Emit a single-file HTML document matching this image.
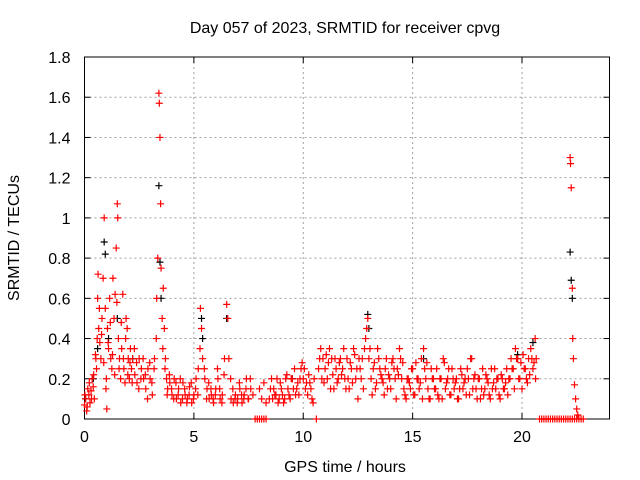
<!DOCTYPE html>
<html><head><meta charset="utf-8"><style>
body{margin:0;background:#fff}
svg{display:block;font-family:"Liberation Sans",sans-serif;font-size:16px}
</style></head><body>
<svg id="chart" width="640" height="480">
<rect width="640" height="480" fill="#fff"/>
<g id="grid"></g>
<g id="axes"></g>
<g id="black"></g>
<g id="red"></g>
<text x="345" y="33" text-anchor="middle">Day 057 of 2023, SRMTID for receiver cpvg</text>
<text x="345" y="472" text-anchor="middle">GPS time / hours</text>
<text transform="translate(19,238) rotate(-90)" text-anchor="middle">SRMTID / TECUs</text>
</svg>
<script>
const xTicks=[0,5,10,15,20];
const yTicks=[0,0.2,0.4,0.6,0.8,1,1.2,1.4,1.6,1.8];
const yTickLabels=["0","0.2","0.4","0.6","0.8","1","1.2","1.4","1.6","1.8"];
const redT=[0,.05,.1,.15,.2,.25,.3,.35,.4,.45,.5,.55,.6,.62,.65,.7,.75,.8,.85,.9,.95,1.0,1.02,1.05,1.1,1.15,1.2,1.25,1.3,1.35,1.4,1.45,1.5,1.52,1.55,1.6,1.65,1.7,1.75,1.8,1.85,1.9,1.95,2.0,2.05,2.1,2.15,2.2,2.3,2.4,2.5,2.6,2.7,2.8,2.9,3.0,3.1,3.2,3.3,3.35,3.4,3.42,3.45,3.48,3.5,3.55,3.6,3.65,3.7,3.75,3.8,3.9,4.0,4.1,4.2,4.3,4.4,4.5,4.6,4.7,4.8,4.9,5.0,5.1,5.2,5.3,5.35,5.4,5.5,5.6,5.7,5.8,5.9,6.0,6.1,6.2,6.3,6.4,6.5,6.55,6.6,6.7,6.8,6.9,7.0,7.1,7.2,7.3,7.4,7.5,7.6,7.7,8.0,8.1,8.2,8.3,8.5,8.6,8.7,8.8,8.9,9.0,9.1,9.2,9.3,9.4,9.5,9.6,9.7,9.8,9.9,10.0,10.1,10.2,10.3,10.4,10.5,10.7,10.8,10.9,11.0,11.1,11.2,11.3,11.4,11.5,11.6,11.7,11.8,11.9,12.0,12.1,12.2,12.3,12.4,12.5,12.6,12.7,12.8,12.9,12.95,13.0,13.1,13.2,13.3,13.4,13.5,13.6,13.7,13.8,13.9,14.0,14.1,14.2,14.3,14.4,14.5,14.6,14.7,14.8,14.9,15.0,15.1,15.2,15.3,15.4,15.5,15.6,15.7,15.8,15.9,16.0,16.1,16.2,16.3,16.4,16.5,16.6,16.7,16.8,16.9,17.0,17.1,17.2,17.3,17.4,17.5,17.6,17.7,17.8,17.9,18.0,18.1,18.2,18.3,18.4,18.5,18.6,18.7,18.8,18.9,19.0,19.1,19.2,19.3,19.4,19.5,19.6,19.7,19.8,19.9,20.0,20.1,20.2,20.3,20.4,20.5,20.6,20.65,22.2,22.22,22.25,22.3,22.32,22.35,22.4,22.45,22.5,22.55];
const redV=[.07,.1,.04,.15,.12,.08,.14,.2,.16,.1,.32,.25,.6,.72,.45,.38,.3,.5,.7,1.0,.55,.2,.05,.45,.35,.6,.3,.25,.7,.5,.62,.85,1.07,1.0,.4,.3,.2,.35,.62,.25,.18,.5,.45,.3,.2,.35,.25,.3,.22,.18,.3,.25,.2,.15,.25,.2,.12,.3,.6,.8,1.62,1.57,1.4,1.07,.75,.5,.65,.45,.3,.2,.15,.18,.12,.2,.1,.15,.08,.18,.12,.1,.16,.08,.12,.2,.25,.55,.45,.3,.2,.15,.1,.12,.08,.15,.2,.1,.12,.3,.57,.5,.3,.1,.08,.12,.1,.15,.08,.12,.2,.1,.15,.12,.15,.1,.18,.08,.15,.1,.12,.2,.1,.15,.08,.2,.15,.1,.2,.25,.15,.12,.25,.2,.15,.12,.18,.1,.2,.25,.35,.3,.25,.2,.35,.3,.15,.25,.2,.3,.25,.2,.3,.15,.25,.35,.2,.1,.25,.3,.35,.45,.5,.3,.2,.25,.15,.35,.25,.2,.12,.3,.22,.15,.3,.2,.25,.35,.2,.15,.1,.2,.15,.25,.12,.2,.15,.3,.35,.2,.15,.1,.2,.15,.25,.1,.2,.3,.15,.2,.12,.25,.15,.2,.1,.25,.15,.2,.25,.12,.3,.2,.15,.2,.1,.25,.15,.2,.12,.25,.18,.15,.2,.1,.2,.15,.25,.2,.3,.25,.35,.3,.2,.15,.25,.2,.3,.35,.25,.4,.3,1.3,1.27,1.15,.65,.4,.3,.17,.1,.05,.02];
const red2T=[.02,.12,.22,.32,.42,.52,.58,.68,.78,.88,.98,1.08,1.18,1.28,1.38,1.48,1.58,1.68,1.78,1.88,1.98,2.08,2.18,2.28,2.38,2.48,2.58,2.68,2.78,2.88,2.98,3.08,3.18,3.28,3.58,3.68,3.78,3.88,3.98,4.08,4.18,4.28,4.38,4.48,4.58,4.68,4.78,4.88,4.98,5.08,5.18,5.28,5.48,5.58,5.68,5.78,5.88,5.98,6.08,6.18,6.28,6.38,6.68,6.78,6.88,6.98,7.08,7.18,7.28,7.38,7.48,7.58,8.45,8.55,8.65,8.75,8.85,8.95,9.05,9.15,9.25,9.35,9.45,9.55,9.65,9.75,9.85,9.95,10.05,10.15,10.25,10.35,10.45,10.75,10.85,10.95,11.05,11.15,11.25,11.35,11.45,11.55,11.65,11.75,11.85,11.95,12.05,12.15,12.25,12.35,12.45,12.55,12.65,12.75,12.85,13.05,13.15,13.25,13.35,13.45,13.55,13.65,13.75,13.85,13.95,14.05,14.15,14.25,14.35,14.45,14.55,14.65,14.75,14.85,14.95,15.05,15.15,15.25,15.35,15.45,15.55,15.65,15.75,15.85,15.95,16.05,16.15,16.25,16.35,16.45,16.55,16.65,16.75,16.85,16.95,17.05,17.15,17.25,17.35,17.45,17.55,17.65,17.75,17.85,17.95,18.05,18.15,18.25,18.35,18.45,18.55,18.65,18.75,18.85,18.95,19.05,19.15,19.25,19.35,19.45,19.55,19.65,19.75,19.85,19.95,20.05,20.15,20.25,20.35,20.45,20.55,20.62];
const red2V=[.12,.06,.18,.1,.22,.3,.4,.55,.42,.28,.15,.38,.48,.32,.22,.58,.25,.48,.3,.4,.22,.28,.18,.35,.28,.15,.2,.3,.22,.1,.28,.18,.25,.4,.35,.25,.12,.22,.15,.1,.18,.12,.2,.1,.15,.08,.12,.18,.1,.15,.12,.35,.25,.1,.18,.15,.1,.12,.25,.15,.08,.22,.2,.15,.1,.08,.18,.12,.1,.15,.1,.2,.1,.2,.15,.12,.08,.18,.12,.1,.22,.12,.2,.15,.12,.18,.2,.28,.25,.18,.22,.15,.08,.3,.2,.18,.32,.28,.15,.22,.3,.18,.28,.22,.35,.15,.2,.28,.18,.32,.25,.3,.2,.15,.4,.35,.12,.28,.18,.3,.22,.18,.25,.15,.2,.28,.25,.1,.22,.3,.28,.12,.2,.18,.25,.12,.28,.2,.18,.1,.25,.28,.1,.25,.2,.15,.12,.2,.1,.28,.18,.25,.12,.2,.18,.1,.15,.22,.18,.12,.2,.3,.15,.22,.1,.2,.15,.12,.22,.18,.1,.15,.25,.2,.12,.22,.15,.18,.12,.2,.25,.15,.3,.2,.28,.32,.25,.18,.22,.3,.28,.2,.32,.38];
const zeroT=[7.8,7.9,8.0,8.1,8.2,8.3,10.6,20.8,20.9,21.0,21.1,21.2,21.3,21.4,21.5,21.6,21.7,21.8,21.9,22.0,22.1,22.2,22.3,22.4,22.5,22.6,22.7,22.8];
const blackT=[.05,.4,.6,.9,.95,1.1,1.5,2.2,3.4,3.45,3.5,5.35,5.4,6.5,9.5,12.95,13.0,15.5,19.8,20.5,22.2,22.25,22.3];
const blackV=[.1,.2,.35,.88,.82,.4,.5,.3,1.16,.78,.6,.5,.4,.5,.2,.52,.45,.3,.32,.38,.83,.69,.6];
const X0=84.5,X1=609.5,Y0=419,Y1=57,XMAX=24,YMAX=1.8;
const sx=t=>X0+(X1-X0)*t/XMAX, sy=v=>Y0-(Y0-Y1)*v/YMAX;
const NS="http://www.w3.org/2000/svg";
function mk(tag,attrs,parent){const e=document.createElementNS(NS,tag);for(const k in attrs)e.setAttribute(k,attrs[k]);parent.appendChild(e);return e;}
const grid=document.getElementById('grid'),axes=document.getElementById('axes');
yTicks.forEach((v,i)=>{const y=sy(v);
 if(i>0&&i<yTicks.length-1){const l=mk('line',{x1:X0,x2:X1,y1:y,y2:y,stroke:'#a0a0a0','stroke-dasharray':'2,3'},grid);
 
 }
 mk('line',{x1:X0,x2:X0+6,y1:y,y2:y,stroke:'#000'},axes);
 mk('line',{x1:X1,x2:X1-6,y1:y,y2:y,stroke:'#000'},axes);
 const t=mk('text',{x:X0-14,y:y+6,'text-anchor':'end'},axes);t.textContent=yTickLabels[i];
 
 });
xTicks.forEach(v=>{const x=sx(v);
 if(v>0){const l=mk('line',{x1:x,x2:x,y1:Y0,y2:Y1,stroke:'#a0a0a0','stroke-dasharray':'2,3'},grid);
 
 }
 mk('line',{x1:x,x2:x,y1:Y0,y2:Y0-6,stroke:'#000'},axes);
 mk('line',{x1:x,x2:x,y1:Y1,y2:Y1+6,stroke:'#000'},axes);
 const t=mk('text',{x:x,y:Y0+23,'text-anchor':'middle'},axes);t.textContent=String(v);
 
 });
const fr=mk('rect',{x:X0,y:Y1,width:X1-X0,height:Y0-Y1,fill:'none',stroke:'#000'},axes);


function plus(g,t,v,c){const x=sx(t),y=sy(v);
 const p=mk('path',{d:`M${x-3.5},${y}h7M${x},${y-3.5}v7`,stroke:c,'stroke-width':1.2,fill:'none'},g);
 
 }
const gb=document.getElementById('black'),gr=document.getElementById('red');
blackT.forEach((t,i)=>plus(gb,t,blackV[i],'#000'));
redT.forEach((t,i)=>plus(gr,t,redV[i],'#f00'));
red2T.forEach((t,i)=>plus(gr,t,red2V[i],'#f00'));
zeroT.forEach(t=>plus(gr,t,0,'#f00'));
</script>
</body></html>
